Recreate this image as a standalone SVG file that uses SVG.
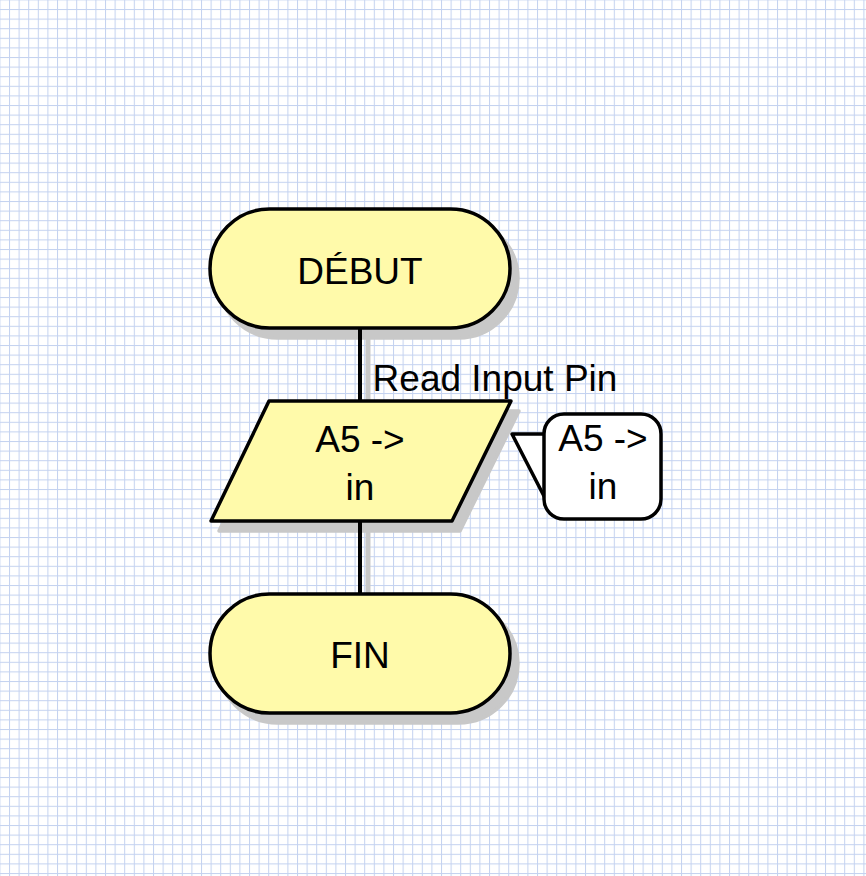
<svg xmlns="http://www.w3.org/2000/svg" width="866" height="876" viewBox="0 0 866 876">
  <defs>
    <pattern id="grid" x="-0.6" y="-0.6" width="9.6" height="9.6" patternUnits="userSpaceOnUse">
      <rect x="0" y="0" width="9.6" height="9.6" fill="#ffffff"/>
      <rect x="0" y="0" width="1" height="9.6" fill="#c4d2f0"/>
      <rect x="0" y="0" width="9.6" height="1" fill="#c4d2f0"/>
    </pattern>
    <style>
      .shape { fill: #fffaaa; stroke: #000; stroke-width: 3.5; stroke-linejoin: round; }
      .shadow { fill: #c8c8c8; stroke: #c8c8c8; stroke-width: 3.5; stroke-linejoin: round; }
      .lbl { font-family: "Liberation Sans", Arial, sans-serif; font-size: 37px; fill: #000; text-anchor: middle; }
      .conn { stroke: #000; stroke-width: 4; fill: none; }
      .connsh { stroke: #c8c8c8; stroke-width: 5; fill: none; }
    </style>
  </defs>
  <rect x="0" y="0" width="866" height="876" fill="url(#grid)"/>

  <g id="shadows">
    <line class="connsh" x1="368" y1="330" x2="368" y2="402"/>
    <line class="connsh" x1="368" y1="522" x2="368" y2="595"/>
    <rect class="shadow" x="218" y="219" width="300" height="119" rx="59.5"/>
    <polygon class="shadow" points="277,411 519,411 460,531 219,531"/>
    <rect class="shadow" x="218" y="604" width="300" height="119" rx="59.5"/>
  </g>

  <g id="connectors">
    <line class="conn" x1="360" y1="328" x2="360" y2="402"/>
    <line class="conn" x1="360" y1="521" x2="360" y2="594"/>
  </g>

  <g id="start">
    <rect class="shape" x="210" y="209" width="300" height="119" rx="59.5"/>
    <text class="lbl" x="360" y="284">DÉBUT</text>
  </g>

  <g id="input">
    <polygon class="shape" points="269,401 511,401 452,521 211,521"/>
    <text class="lbl" x="360" y="452">A5 -&gt;</text>
    <text class="lbl" x="360" y="500">in</text>
    <text class="lbl" x="495" y="391">Read Input Pin</text>
  </g>

  <g id="comment">
    <polygon points="546,434 512,434 546,500" fill="#ffffff" stroke="none"/>
    <polyline points="546,434 512,434 546,500" fill="none" stroke="#000" stroke-width="3.5" stroke-linejoin="round"/>
    <rect x="544" y="414" width="117" height="105" rx="20" fill="#ffffff" stroke="#000" stroke-width="3.5"/>
    <text class="lbl" x="603" y="451">A5 -&gt;</text>
    <text class="lbl" x="603" y="499">in</text>
  </g>

  <g id="end">
    <rect class="shape" x="210" y="594" width="300" height="119" rx="59.5"/>
    <text class="lbl" x="360" y="668">FIN</text>
  </g>
</svg>
